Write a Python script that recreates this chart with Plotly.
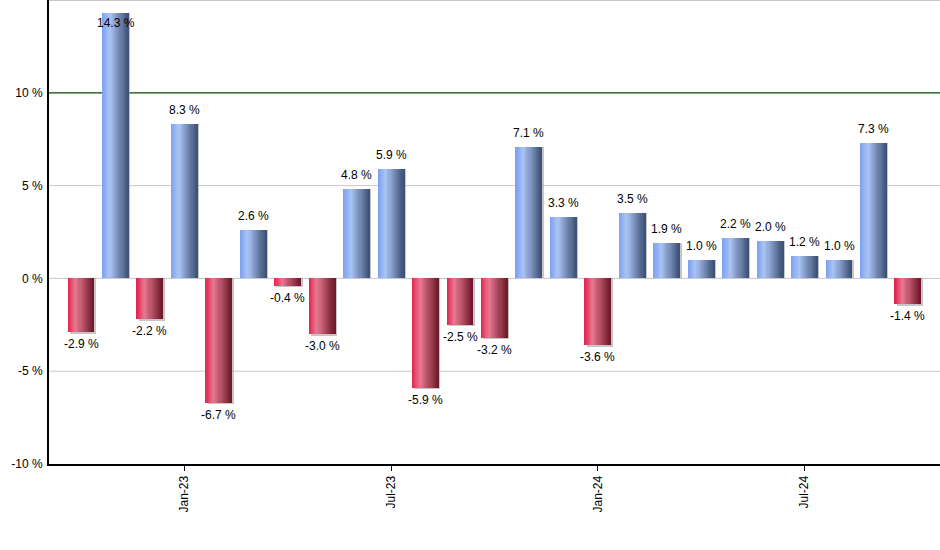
import plotly.graph_objects as go

months = ["Oct-22","Nov-22","Dec-22","Jan-23","Feb-23","Mar-23","Apr-23","May-23","Jun-23",
          "Jul-23","Aug-23","Sep-23","Oct-23","Nov-23","Dec-23","Jan-24","Feb-24","Mar-24",
          "Apr-24","May-24","Jun-24","Jul-24","Aug-24","Sep-24","Oct-24"]
returns = [-2.9, 14.3, -2.2, 8.3, -6.7, 2.6, -0.4, -3.0, 4.8, 5.9, -5.9, -2.5, -3.2,
           7.1, 3.3, -3.6, 3.5, 1.9, 1.0, 2.2, 2.0, 1.2, 1.0, 7.3, -1.4]
tick_labels = ["Jan-23", "Jul-23", "Jan-24", "Jul-24"]
y_ticks = [-10, -5, 0, 5, 10]
grid_lines = [-5, 0, 5, 15]
ref_line = 10

xs = list(range(len(months)))
tick_pos = [months.index(t) for t in tick_labels]

BLUE = [(0.0, (122, 160, 240)), (0.3, (170, 196, 244)), (1.0, (60, 80, 116))]
RED = [(0.0, (226, 34, 76)), (0.3, (232, 122, 146)), (1.0, (108, 24, 40))]

def grad(stops, t):
    for (t0, c0), (t1, c1) in zip(stops[:-1], stops[1:]):
        if t0 <= t <= t1:
            f = (t - t0) / (t1 - t0)
            c = [round(a + (b - a) * f) for a, b in zip(c0, c1)]
            return "rgb(%d,%d,%d)" % tuple(c)
    c = stops[-1][1]
    return "rgb(%d,%d,%d)" % c

W = 0.755
N = 24
fig = go.Figure()

# shadow
fig.add_trace(go.Bar(x=xs, y=[v - (0.08 if v < 0 else 0) for v in returns],
                     width=W, offset=-W / 2 + 0.05,
                     marker=dict(color="rgba(160,160,160,0.6)", line=dict(width=0)),
                     hoverinfo="skip", showlegend=False))

for i in range(N):
    t = (i + 0.5) / N
    cols = [grad(BLUE, t) if v >= 0 else grad(RED, t) for v in returns]
    fig.add_trace(go.Bar(x=xs, y=returns, width=W / N * 1.08, offset=-W / 2 + i * W / N,
                         marker=dict(color=cols, line=dict(width=0)),
                         hoverinfo="skip", showlegend=False))

for x, v in zip(xs, returns):
    if v >= 0 and v < 13.5:
        ya, ys = "bottom", 5
    elif v >= 13.5:
        ya, ys = "top", -1
    else:
        ya, ys = "top", -3
    fig.add_annotation(x=x, y=v, text="%.1f %%" % v, showarrow=False,
                       yanchor=ya, yshift=ys, xanchor="center",
                       font=dict(family="Liberation Sans, Arial", size=12, color="#000"))

for g in grid_lines:
    fig.add_shape(type="line", xref="paper", x0=0, x1=1, yref="y", y0=g, y1=g,
                  line=dict(color="#c8c8c8", width=2 if g == 15 else 1), layer="below")
fig.add_shape(type="line", xref="paper", x0=0, x1=1, yref="y", y0=ref_line, y1=ref_line,
              line=dict(color="#004a00", width=1.3), layer="below")

fig.update_layout(
    width=940, height=550,
    margin=dict(l=49, r=0, t=0, b=86),
    paper_bgcolor="white", plot_bgcolor="white",
    barmode="overlay", bargap=0,
    font=dict(family="Liberation Sans, Arial", size=12, color="#000"),
    xaxis=dict(range=[-0.93, 24.93], tickmode="array", tickvals=tick_pos, ticktext=tick_labels,
               tickangle=-90, ticks="outside", ticklen=5, tickcolor="#000",
               showline=True, linecolor="#000", linewidth=2, showgrid=False, zeroline=False,
               tickfont=dict(size=12)),
    yaxis=dict(range=[-10, 15], tickmode="array", tickvals=y_ticks,
               ticktext=["%d %%" % v for v in y_ticks],
               showline=True, linecolor="#000", linewidth=2, ticks="", ticklabelstandoff=2,
               showgrid=False, zeroline=False,
               tickfont=dict(size=12)),
)

fig.write_html("out.html", config={"displayModeBar": False},
               post_script="document.body.style.margin='0px';")
